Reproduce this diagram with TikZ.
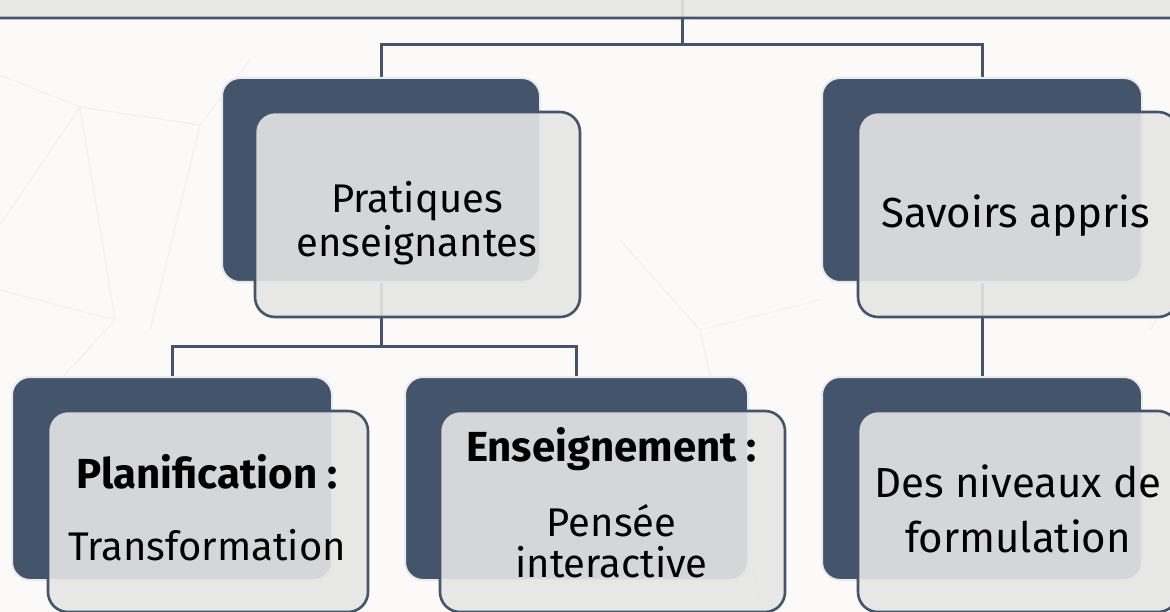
\documentclass[tikz,border=0pt]{standalone}
\usepackage{fontspec}
\setmainfont{Fira Sans}
\pgfdeclarelayer{base}
\pgfdeclarelayer{links}
\pgfsetlayers{base,links,main}
\definecolor{slate}{HTML}{44546A}
\definecolor{paper}{HTML}{FBFAF9}
\definecolor{veil}{HTML}{E5E5E5}
\definecolor{web}{HTML}{F2F1F0}
% fixed-height line so every text block has a known extent
\newcommand\rowstrut{\rule[-12pt]{0pt}{40pt}}
\newcommand\regtxt{\fontsize{40}{40}\selectfont}
\newcommand\bigtxt{\fontsize{42}{40}\selectfont}
\tikzset{
  backbox/.style={draw=white!88!slate, line width=2pt, fill=slate,
    rounded corners=18pt, inner sep=0pt},
  frontbox/.style={draw=slate, line width=2.6pt, fill=veil, fill opacity=0.9,
    rounded corners=20pt, inner sep=0pt},
  label text/.style={inner sep=0pt, align=center, font=\regtxt},
  link/.style={draw=slate, line width=3pt},
  webline/.style={draw=web, line width=1.2pt}
}
\begin{document}
\begin{tikzpicture}[x=1pt, y=-1pt]
  \useasboundingbox (0,0) rectangle (1170,612);
  % paper and its faint net of lines
  \begin{pgfonlayer}{base}
    \fill[paper] (0,0) rectangle (1170,612);
    \path[webline] (0,75) -- (80,107) -- (200,125) -- (250,60);
    \path[webline] (80,107) -- (0,225);
    \path[webline] (80,107) -- (115,320) -- (60,380);
    \path[webline] (200,125) -- (150,330);
    \path[webline] (115,320) -- (0,290);
    \path[webline] (620,240) -- (700,330) -- (820,300);
    \path[webline] (700,330) -- (760,600);
    \path[webline] (1150,330) -- (1170,300);
    \path[webline] (610,410) -- (650,560);
  \end{pgfonlayer}

  % top box, mostly above the page
  \node[frontbox, minimum width=1240pt, minimum height=160pt] (top) at (585,-62) {};
  \coordinate (topin) at (682,-2);

  % Pratiques enseignantes
  \node[backbox, minimum width=318pt, minimum height=204pt] (pb) at (381,180) {};
  \node[frontbox, minimum width=325pt, minimum height=205pt] (pf) at (417.5,214.5) {};
  \node[label text] (pt) at (417,225) {\rowstrut Pratiques\\\rowstrut enseignantes};

  % Savoirs appris
  \node[backbox, minimum width=320pt, minimum height=204pt] (sb) at (982,180) {};
  \node[frontbox, minimum width=320pt, minimum height=205pt] (sf) at (1018,214.5) {};
  \node[label text, font=\bigtxt] (st) at (1015.5,217) {\rowstrut Savoirs appris};

  % Planification
  \node[backbox, minimum width=320pt, minimum height=203pt] (lb) at (172,478.5) {};
  \node[frontbox, minimum width=320pt, minimum height=201pt] (lf) at (208,511.5) {};
  \node[label text] (lt) at (207,513.5)
    {\rowstrut{\bigtxt\bfseries Planification :}\\[27pt]\rowstrut Transformation};

  % Enseignement
  \node[backbox, minimum width=343pt, minimum height=203pt] (mb) at (576.5,478.5) {};
  \node[frontbox, minimum width=345pt, minimum height=201pt] (mf) at (612.5,511.5) {};
  \node[label text] (mt) at (611.5,508.5)
    {\rowstrut{\bigtxt\bfseries Enseignement :}\\[30pt]\rowstrut Pensée\\[-3pt]\rowstrut interactive};

  % Des niveaux de formulation
  \node[backbox, minimum width=320pt, minimum height=203pt] (rb) at (982,478.5) {};
  \node[frontbox, minimum width=320pt, minimum height=201pt] (rf) at (1018,511.5) {};
  \node[label text, font=\bigtxt] (rt) at (1018,514.5)
    {\rowstrut Des niveaux de\\[9pt]\rowstrut formulation};

  % connectors, drawn under the boxes
  \coordinate (jt) at (682,45);
  \coordinate (jp) at (381,346);
  \begin{pgfonlayer}{links}
    \path[link] (topin) -- (jt);
    \path[link] (pb.north) |- (jt) -| (sb.north);
    \path[link] (pb.south) -- (jp);
    \path[link] (lb.north) |- (jp) -| (mb.north);
    \path[link] (sb.south) -- (rb.north);
  \end{pgfonlayer}
\end{tikzpicture}
\end{document}
